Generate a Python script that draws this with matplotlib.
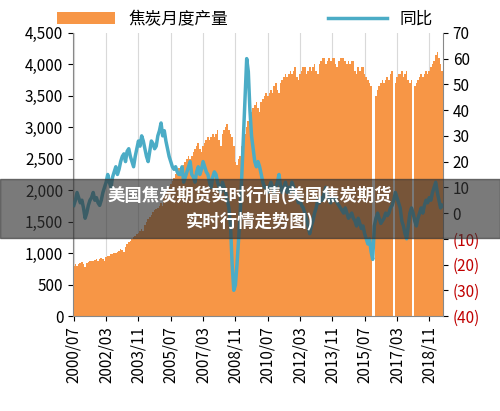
import matplotlib
matplotlib.use("Agg")
import matplotlib.pyplot as plt
import numpy as np

plt.rcParams['font.family'] = ['Noto Sans CJK SC', 'DejaVu Sans']

prod = [800,820,790,830,850,860,
820,780,850,860,870,880,870,890,900,880,900,920,
900,870,940,950,960,980,990,1000,1010,1020,1040,1060,
1050,1020,1100,1150,1180,1200,1230,1250,1280,1300,1320,1350,
1380,1350,1450,1500,1550,1580,1600,1650,1680,1700,1720,1750,
1800,1750,1900,1950,2000,2050,2100,2150,2200,2250,2300,2350,
2300,2250,2400,2450,2500,2550,2500,2550,2600,2650,2700,2750,
2650,2600,2700,2750,2800,2850,2800,2850,2900,2850,2900,2950,
2800,2700,2900,2950,3000,3050,2950,2900,2850,2700,2450,2400,
2500,2550,2700,2800,2900,3000,3100,3200,3250,3300,3350,3400,
3300,3250,3400,3450,3500,3550,3500,3550,3600,3550,3650,3700,
3600,3550,3700,3750,3800,3850,3800,3850,3900,3850,3900,3950,
3800,3750,3850,3900,3950,3950,3850,3900,3950,3900,3950,4000,
3900,3850,4000,4050,4100,4100,4000,4050,4100,4050,4100,4100,
4000,3950,4050,4100,4100,4100,4050,4000,4050,4000,4050,4050,
3900,3850,3950,3900,3950,3950,3850,3800,3750,3700,3650,0,
0,3500,3600,3650,3700,3750,3700,3750,3800,3750,3850,3900,
0,3700,3800,3850,3850,3900,3800,3850,3900,3750,3700,3750,
0,3650,3700,3750,3800,3850,3800,3850,3900,3850,3900,3950,
4000,4050,4150,4200,4100,4000,3900]

yoy = [3,5,8,6,4,5,
2,-2,0,3,5,6,8,5,6,4,3,5,
8,10,12,15,12,10,14,16,18,15,17,20,
22,23,20,24,25,22,20,18,22,25,28,26,
30,28,25,22,20,24,28,27,25,26,30,32,
35,30,32,28,25,22,20,18,17,18,16,15,
15,18,12,14,16,18,20,15,14,12,16,18,
15,17,20,18,16,15,12,10,14,16,15,12,
10,8,12,10,8,5,2,-5,-20,-30,-28,-20,
-10,0,15,30,45,60,55,40,30,25,20,18,
20,18,15,12,10,10,8,10,12,10,8,10,
12,15,10,8,10,12,8,10,8,12,10,8,
6,4,5,3,2,0,-2,-5,-8,-5,-3,0,
2,5,4,6,5,8,10,7,5,4,6,5,
6,4,3,2,1,0,2,0,-2,-1,0,-2,
-3,-5,-2,-4,-6,-5,-8,-10,-12,-10,-15,-18,
-5,-2,0,-2,-4,-3,-2,0,-1,0,2,3,
5,8,6,4,2,-3,-5,-8,-10,-5,0,2,
0,-3,-5,-2,0,2,0,3,5,4,6,5,
8,10,12,8,5,2,3]

tick_labels = ['2000/07','2002/03','2003/11','2005/07','2007/03','2008/11',
               '2010/07','2012/03','2013/11','2015/07','2017/03','2018/11']

fig = plt.figure(figsize=(5, 4.11), dpi=100)
ax = fig.add_axes([0.146, 0.231, 0.74, 0.689])
x = np.arange(len(prod))
bars = ax.bar(x, prod, width=1.0, color='#F79646', linewidth=0, label='焦炭月度产量')
ax.set_xlim(-0.5, len(prod) - 0.5)
ax.set_ylim(0, 4500)
ax.set_yticks(np.arange(0, 4501, 500))
ax.set_yticklabels([f'{v:,}' for v in range(0, 4501, 500)], fontsize=11)
ticks = np.arange(0, len(prod), 20)[:len(tick_labels)]
ax.set_xticks(ticks)
ax.set_xticklabels(tick_labels, rotation=90, fontsize=11)
ax.grid(axis='x', color='#d9d9d9', linewidth=0.8)
ax.set_axisbelow(True)
for s in ['top', 'right']:
    ax.spines[s].set_visible(False)
ax.spines['left'].set_color('#888888')
ax.spines['bottom'].set_color('#888888')

ax2 = ax.twinx()
line, = ax2.plot(x, yoy, color='#4BACC6', linewidth=2.5, label='同比')
ax2.set_ylim(-40, 70)
rt = np.arange(-40, 71, 10)
ax2.set_yticks(rt)
ax2.set_yticklabels([f'({-v})' if v < 0 else str(v) for v in rt], fontsize=11)
for lbl, v in zip(ax2.get_yticklabels(), rt):
    if v < 0:
        lbl.set_color('#C00000')
for s in ['top', 'left', 'bottom']:
    ax2.spines[s].set_visible(False)
ax2.spines['right'].set_color('#888888')

fig.legend([bars, line], ['焦炭月度产量', '同比'], loc='upper center',
           bbox_to_anchor=(0.49, 1.01), ncol=2, frameon=False, fontsize=12,
           columnspacing=6, handlelength=3.5)

fig.patches.append(plt.Rectangle((0.0, 0.42), 1.0, 0.145, transform=fig.transFigure,
                                 color='#333333', alpha=0.65, zorder=10))
fig.text(0.5, 0.493, '美国焦炭期货实时行情(美国焦炭期货\n实时行情走势图)', ha='center', va='center',
         color='white', fontsize=12.5, fontweight='bold', zorder=11, linespacing=1.5)

fig.savefig('out.png', dpi=100)
